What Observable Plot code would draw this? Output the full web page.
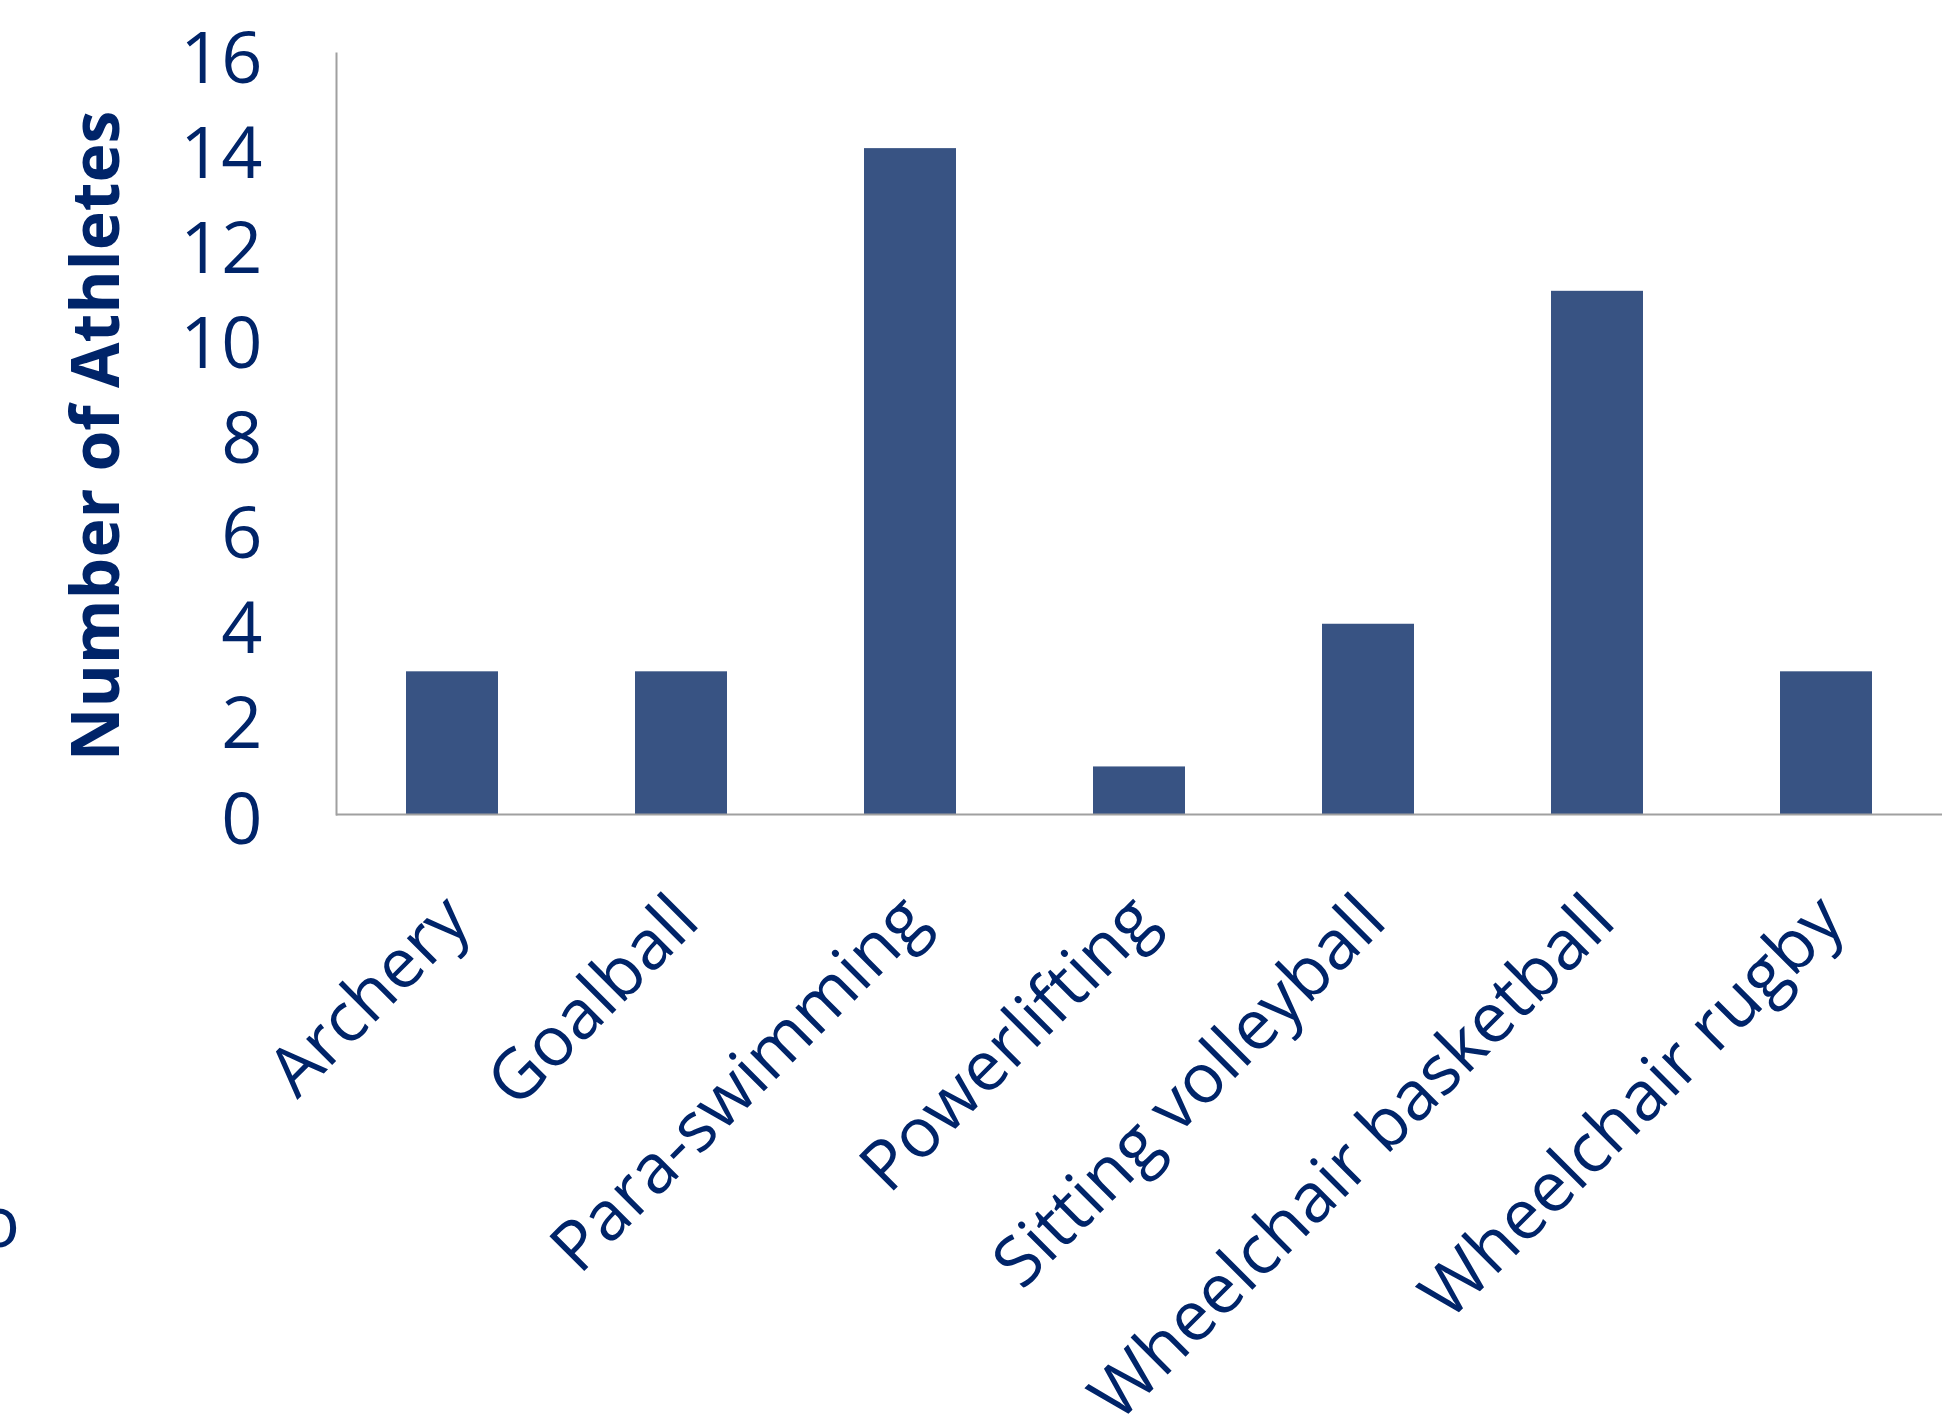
<!DOCTYPE html>
<html>
<head>
<meta charset="utf-8">
<script src="https://cdn.jsdelivr.net/npm/d3@7"></script>
<script src="https://cdn.jsdelivr.net/npm/@observablehq/plot@0.6"></script>
<style>
  html, body { margin: 0; padding: 0; background: #ffffff; }
  #chart { position: relative; width: 1952px; height: 1419px; overflow: hidden; }
  #chart svg { display: block; }
</style>
</head>
<body>
<div id="chart"></div>
<script>
const sports = ["Archery", "Goalball", "Para-swimming", "Powerlifting", "Sitting volleyball", "Wheelchair basketball", "Wheelchair rugby"];
const athletes = [3, 3, 14, 1, 4, 11, 3];
const yTicks = [0, 2, 4, 6, 8, 10, 12, 14, 16];
const yTitle = "Number of Athletes";

const data = sports.map((s, i) => ({sport: s, count: athletes[i]}));

const textColor = "#002469";
const barColor = "#385383";
const axisColor = "#a0a0a0";

const chart = Plot.plot({
  width: 1952,
  height: 1419,
  marginLeft: 336,
  marginRight: 10,
  marginTop: 53,
  marginBottom: 605,
  style: {color: textColor, fontFamily: "'Open Sans', sans-serif", background: "#ffffff"},
  x: {domain: sports, paddingInner: 0.6, paddingOuter: 0.3, label: null},
  y: {domain: [0, 16], label: null},
  marks: [
    Plot.barY(data, {x: "sport", y: "count", fill: barColor}),
    Plot.ruleY([0], {stroke: axisColor, strokeWidth: 2}),
    Plot.frame({anchor: "left", stroke: axisColor, strokeWidth: 2}),
    Plot.axisY({ticks: yTicks, tickSize: 0, tickPadding: 74, fontSize: 72, dy: 6, label: null, fill: textColor}),
    Plot.axisX({tickSize: 0, tickPadding: 94, tickRotate: -45, fontSize: 69, dx: 5, label: null, fill: textColor}),
    Plot.text([yTitle], {frameAnchor: "left", dx: -239, dy: 2, rotate: -90, fontSize: 66, fontWeight: "bold", fill: textColor, textAnchor: "middle"})
  ]
});

document.getElementById("chart").appendChild(chart);

// stray clipped glyph at the lower left edge of the original picture
d3.select(chart).append("text")
  .attr("x", 20).attr("y", 1247)
  .attr("text-anchor", "end")
  .attr("font-size", 72)
  .attr("fill", textColor)
  .text("o");
</script>
</body>
</html>
